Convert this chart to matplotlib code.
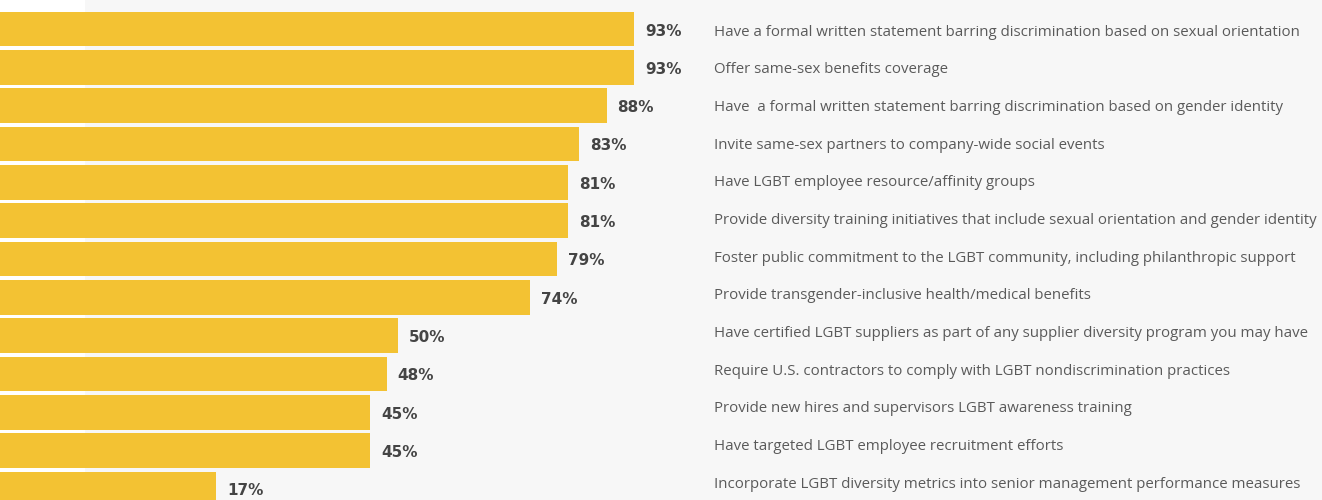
import numpy as np
import matplotlib.pyplot as plt
import matplotlib.patches as mpatches

# data
categories = [
    "Have a formal written statement barring discrimination based on sexual orientation",
    "Offer same-sex benefits coverage",
    "Have  a formal written statement barring discrimination based on gender identity",
    "Invite same-sex partners to company-wide social events",
    "Have LGBT employee resource/affinity groups",
    "Provide diversity training initiatives that include sexual orientation and gender identity",
    "Foster public commitment to the LGBT community, including philanthropic support",
    "Provide transgender-inclusive health/medical benefits",
    "Have certified LGBT suppliers as part of any supplier diversity program you may have",
    "Require U.S. contractors to comply with LGBT nondiscrimination practices",
    "Provide new hires and supervisors LGBT awareness training",
    "Have targeted LGBT employee recruitment efforts",
    "Incorporate LGBT diversity metrics into senior management performance measures",
]
values = [93, 93, 88, 83, 81, 81, 79, 74, 50, 48, 45, 45, 17]

bar_color = "#F3C233"
W, H = 1322, 500
px_per_unit = 5.5
x0_px = 122.5  # pixel where value 0 sits

fig = plt.figure(figsize=(W / 100, H / 100), dpi=100)
fig.patch.set_facecolor("#F7F7F7")

ax = fig.add_axes([0, 0, 1, 1])
ax.set_facecolor("none")
ax.add_patch(mpatches.Rectangle((0, 0), 85 / W, 1, transform=fig.transFigure,
                                facecolor="white", edgecolor="none", zorder=0))
xmin = -x0_px / px_per_unit
xmax = (W - x0_px) / px_per_unit
pitch = 38.33
c0 = 29
ax.set_xlim(xmin, xmax)
ax.set_ylim((H - c0) / pitch, -c0 / pitch)

y = np.arange(len(values))
ax.barh(y, np.array(values) - xmin, left=xmin, height=0.9, color=bar_color, zorder=2)

for i, v in enumerate(values):
    ax.text(v + 11 / px_per_unit, i + 2 / pitch, f"{v}%", va="center", ha="left",
            fontsize=11, fontweight="bold", color="#444444", family="DejaVu Sans")

for i, c in enumerate(categories):
    ypx = 32 + i * 37.67
    fig.text(714 / W, 1 - ypx / H, c, va="center", ha="left", fontsize=10.8,
             color="#5a5a5a", family="Open Sans")

ax.axis("off")
fig.savefig("out.png", dpi=100, facecolor=fig.get_facecolor())
